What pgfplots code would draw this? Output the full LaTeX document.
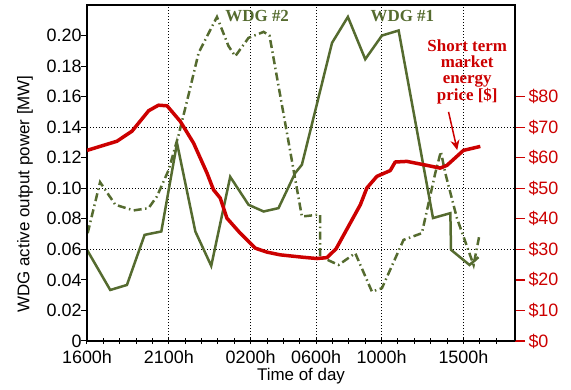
\documentclass[border=0pt]{standalone}
\usepackage{pgfplots}
\pgfplotsset{compat=1.18}
\usepackage{fontspec}
\setmainfont{Liberation Sans}
\newfontfamily\annfont{Liberation Serif}
\usetikzlibrary{arrows.meta}
\definecolor{wdg}{RGB}{85,107,47}
\definecolor{pricered}{RGB}{204,0,0}
\begin{document}
\begin{tikzpicture}
\path[use as bounding box] (-87bp,-49bp) rectangle (484bp,341bp);
\pgfplotsset{
  common/.style={width=428bp,height=336bp,scale only axis,at={(0bp,0bp)},anchor=south west,
    xmin=0,xmax=26.15,ymin=0,ymax=0.22},
  tickfont/.style={font=\fontsize{18}{20}\selectfont},
}
% ---------------- main axis: box, x axis, grid, WDG series
\begin{axis}[common,
  xtick={0,5,10,14,18,23},
  xticklabels={1600h,2100h,0200h,0600h,1000h,1500h},
  minor xtick={1,2,3,4,6,7,8,9,11,12,13,15,16,17,19,20,21,22,24,25},
  xtick pos=left,
  tick align=center, major tick length=6bp, minor tick length=6bp,
  xtick style={black, line width=1bp},
  minor tick style={black, line width=1bp},
  ytick={0.06,0.10,0.14}, yticklabels={}, ytick style={draw=none},
  xmajorgrids, ymajorgrids,
  major grid style={black, line width=1bp, dash pattern=on 1.2bp off 1.8bp},
  axis line style={black, line width=1.2bp},
  xticklabel style={tickfont, yshift=-3bp},
  xlabel={Time of day},
  xlabel style={font=\fontsize{17}{19}\selectfont, at={(axis description cs:0.5,-0.104)}, anchor=center},
  ylabel={WDG active output power [MW]},
  ylabel style={font=\fontsize{17}{19}\selectfont, at={(axis description cs:-0.145,0.4375)}, anchor=center},
]
% WDG #1 (solid)
\addplot[wdg, line width=2.5bp] coordinates {
(0.00,0.0597) (1.42,0.0334) (2.44,0.0367) (3.52,0.0695) (4.54,0.0717)
(5.50,0.1296) (6.62,0.0717) (7.59,0.0492) (8.75,0.1075) (9.87,0.0892)
(10.79,0.0848) (11.70,0.0870) (12.72,0.1100) (13.13,0.1154) (14.97,0.1952)
(15.94,0.2122) (17.00,0.1845) (18.02,0.2000) (19.04,0.2033) (21.14,0.0805)
(22.20,0.0837) (22.24,0.0597) (23.37,0.0498) (23.92,0.0549)
};
% WDG #2 (dash-dot)
\addplot[wdg, line width=2.5bp, dash pattern=on 8bp off 3.5bp on 1.5bp off 3.5bp] coordinates {
(0.04,0.0706) (0.80,0.1040) (1.73,0.0892) (2.85,0.0855) (3.76,0.0870)
(4.27,0.0946) (4.99,0.1120) (5.60,0.1350) (6.20,0.1610) (6.82,0.1887)
(7.94,0.2122) (8.65,0.1930) (9.06,0.1865) (9.87,0.1985) (10.79,0.2024)
(11.15,0.2000) (13.13,0.0815) (14.05,0.0826) (14.25,0.0826) (14.25,0.0553)
(15.37,0.0498) (16.39,0.0575) (17.41,0.0323) (18.02,0.0346) (19.34,0.0662)
(20.46,0.0706) (21.28,0.1100) (21.62,0.1240) (21.89,0.1100) (22.60,0.0805)
(23.62,0.0498) (23.98,0.0695)
};
\node[wdg, font=\annfont\bfseries\fontsize{17}{17}\selectfont] at (axis cs:10.4,0.2125) {WDG \#2};
\node[wdg, font=\annfont\bfseries\fontsize{17}{17}\selectfont] at (axis cs:19.27,0.2125) {WDG \#1};
\node[pricered, align=center, font=\annfont\bfseries\fontsize{17}{16.5}\selectfont] at (axis cs:23.23,0.1764) {Short term\\market\\energy\\price [\$]};
\draw[pricered, line width=1.5bp, -{Stealth[length=10bp,width=9bp]}] (axis cs:22.09,0.150) -- (axis cs:22.62,0.1250);
\end{axis}
% ---------------- left y axis ticks
\begin{axis}[common,
  axis x line=none, axis y line*=left,
  axis line style={black, line width=1.2bp},
  ytick={0,0.02,0.04,0.06,0.08,0.10,0.12,0.14,0.16,0.18,0.20},
  yticklabels={0,0.02,0.04,0.06,0.08,0.10,0.12,0.14,0.16,0.18,0.20},
  tick align=outside, major tick length=6bp,
  ytick style={black, line width=1bp},
  yticklabel style={tickfont, xshift=4bp},
]
\end{axis}
% ---------------- right y axis: price
\begin{axis}[common, ymax=110,
  axis x line=none, axis y line*=right,
  axis line style={black, line width=1.2bp},
  ytick={0,10,20,30,40,50,60,70,80},
  yticklabels={\$0,\$10,\$20,\$30,\$40,\$50,\$60,\$70,\$80},
  tick align=outside, major tick length=10bp,
  ytick style={pricered, line width=1.2bp},
  yticklabel style={tickfont, pricered},
]
\addplot[pricered, line width=3.5bp, line join=round] coordinates {
(0.00,62.4) (1.83,65.4) (2.75,68.7) (3.77,75.4) (4.37,77.2) (4.89,77.0)
(5.70,71.9) (6.51,64.8) (7.33,55.0) (7.73,49.5) (8.14,46.8) (8.55,40.2)
(9.36,35.3) (10.28,30.4) (10.99,29.1) (11.81,28.2) (13.23,27.4) (14.05,27.0)
(14.66,27.3) (15.22,30.2) (16.70,44.6) (17.10,50.1) (17.71,53.9) (18.53,55.8)
(18.83,58.6) (19.55,58.8) (20.77,57.5) (21.58,56.6) (21.99,57.5) (23.00,62.4)
(24.03,63.7)
};
\end{axis}
\end{tikzpicture}
\end{document}
